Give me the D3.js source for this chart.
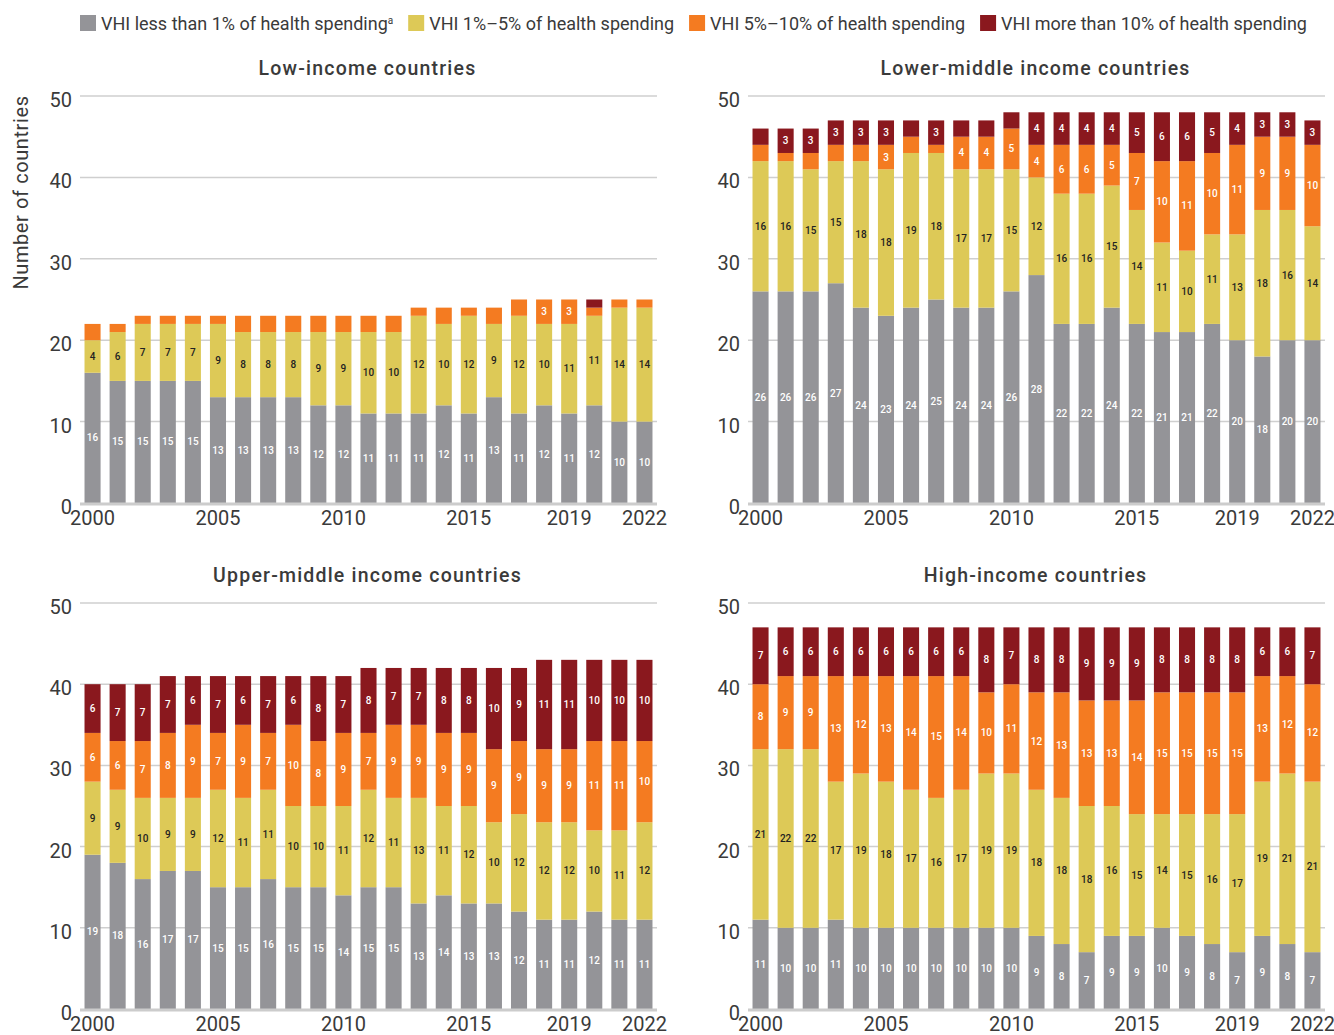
<!DOCTYPE html>
<html>
<head>
<meta charset="utf-8">
<script src="https://d3js.org/d3.v7.min.js"></script>
<style>
  body { margin: 0; background: #fff; }
  text { font-family: Roboto, "DejaVu Sans", sans-serif; fill: #3a3a3a; }
</style>
</head>
<body>
<svg id="chart" width="1334" height="1035"></svg>
<script>
// categories
var years = [2000, 2001, 2002, 2003, 2004, 2005, 2006, 2007, 2008, 2009, 2010, 2011,
             2012, 2013, 2014, 2015, 2016, 2017, 2018, 2019, 2020, 2021, 2022];
var yearTicks = [2000, 2005, 2010, 2015, 2019, 2022];
var countTicks = [0, 10, 20, 30, 40, 50];

var seriesKeys = ["lt1", "p1to5", "p5to10", "gt10"];
var seriesNames = ["VHI less than 1% of health spending", "VHI 1%\u20135% of health spending",
                   "VHI 5%\u201310% of health spending", "VHI more than 10% of health spending"];

// low-income countries
var lowLt1   = [16, 15, 15, 15, 15, 13, 13, 13, 13, 12, 12, 11, 11, 11, 12, 11, 13, 11, 12, 11, 12, 10, 10];
var low1to5  = [ 4,  6,  7,  7,  7,  9,  8,  8,  8,  9,  9, 10, 10, 12, 10, 12,  9, 12, 10, 11, 11, 14, 14];
var low5to10 = [ 2,  1,  1,  1,  1,  1,  2,  2,  2,  2,  2,  2,  2,  1,  2,  1,  2,  2,  3,  3,  1,  1,  1];
var lowGt10  = [ 0,  0,  0,  0,  0,  0,  0,  0,  0,  0,  0,  0,  0,  0,  0,  0,  0,  0,  0,  0,  1,  0,  0];

// lower-middle income countries
var lmLt1   = [26, 26, 26, 27, 24, 23, 24, 25, 24, 24, 26, 28, 22, 22, 24, 22, 21, 21, 22, 20, 18, 20, 20];
var lm1to5  = [16, 16, 15, 15, 18, 18, 19, 18, 17, 17, 15, 12, 16, 16, 15, 14, 11, 10, 11, 13, 18, 16, 14];
var lm5to10 = [ 2,  1,  2,  2,  2,  3,  2,  1,  4,  4,  5,  4,  6,  6,  5,  7, 10, 11, 10, 11,  9,  9, 10];
var lmGt10  = [ 2,  3,  3,  3,  3,  3,  2,  3,  2,  2,  2,  4,  4,  4,  4,  5,  6,  6,  5,  4,  3,  3,  3];

// upper-middle income countries
var umLt1   = [19, 18, 16, 17, 17, 15, 15, 16, 15, 15, 14, 15, 15, 13, 14, 13, 13, 12, 11, 11, 12, 11, 11];
var um1to5  = [ 9,  9, 10,  9,  9, 12, 11, 11, 10, 10, 11, 12, 11, 13, 11, 12, 10, 12, 12, 12, 10, 11, 12];
var um5to10 = [ 6,  6,  7,  8,  9,  7,  9,  7, 10,  8,  9,  7,  9,  9,  9,  9,  9,  9,  9,  9, 11, 11, 10];
var umGt10  = [ 6,  7,  7,  7,  6,  7,  6,  7,  6,  8,  7,  8,  7,  7,  8,  8, 10,  9, 11, 11, 10, 10, 10];

// high-income countries
var hiLt1   = [11, 10, 10, 11, 10, 10, 10, 10, 10, 10, 10,  9,  8,  7,  9,  9, 10,  9,  8,  7,  9,  8,  7];
var hi1to5  = [21, 22, 22, 17, 19, 18, 17, 16, 17, 19, 19, 18, 18, 18, 16, 15, 14, 15, 16, 17, 19, 21, 21];
var hi5to10 = [ 8,  9,  9, 13, 12, 13, 14, 15, 14, 10, 11, 12, 13, 13, 13, 14, 15, 15, 15, 15, 13, 12, 12];
var hiGt10  = [ 7,  6,  6,  6,  6,  6,  6,  6,  6,  8,  7,  8,  8,  9,  9,  9,  8,  8,  8,  8,  6,  6,  7];

var colors = { lt1: "#949498", p1to5: "#ddc957", p5to10: "#f47b21", gt10: "#8a181e" };
var labelColors = { lt1: "#ffffff", p1to5: "#222222", p5to10: "#ffffff", gt10: "#ffffff" };

var panels = [
  { title: "Low-income countries", series: [lowLt1, low1to5, low5to10, lowGt10], x0: 80, x1: 657, top: 96, bottom: 503, yLabel: true },
  { title: "Lower-middle income countries", series: [lmLt1, lm1to5, lm5to10, lmGt10], x0: 748, x1: 1325, top: 96, bottom: 503 },
  { title: "Upper-middle income countries", series: [umLt1, um1to5, um5to10, umGt10], x0: 80, x1: 657, top: 603, bottom: 1009 },
  { title: "High-income countries", series: [hiLt1, hi1to5, hi5to10, hiGt10], x0: 748, x1: 1325, top: 603, bottom: 1009 }
];

var svg = d3.select("#chart");

// legend
var legend = svg.append("g");
var lx = 80;
seriesKeys.forEach(function (k, i) {
  legend.append("rect").attr("x", lx).attr("y", 15).attr("width", 16).attr("height", 16).attr("fill", colors[k]);
  var t = legend.append("text").attr("x", lx + 21).attr("y", 29.5).style("font-size", "18px").text(seriesNames[i]);
  if (i == 0) {
    t.append("tspan").attr("dy", -6).style("font-size", "10px").text("a");
  }
  lx = lx + 21 + t.node().getComputedTextLength() + 15;
});

panels.forEach(function (p) {
  var g = svg.append("g");
  var table = years.map(function (yr, i) {
    var row = { year: yr };
    seriesKeys.forEach(function (k, j) { row[k] = p.series[j][i]; });
    return row;
  });
  var stacked = d3.stack().keys(seriesKeys)(table);

  var x = d3.scaleBand().domain(years).range([p.x0, p.x1]).paddingInner(0.36).paddingOuter(0.18);
  var y = d3.scaleLinear().domain([0, 50]).range([p.bottom, p.top]);

  // gridlines
  g.selectAll(".grid").data(countTicks.filter(function (d) { return d > 0; })).enter().append("line")
    .attr("x1", p.x0).attr("x2", p.x1)
    .attr("y1", function (d) { return y(d); }).attr("y2", function (d) { return y(d); })
    .attr("stroke", "#cfcfcf").attr("stroke-width", 1.5);

  // y tick labels
  g.selectAll(".ytick").data(countTicks).enter().append("text")
    .attr("x", p.x0 - 8).attr("y", function (d) { return y(d) + 11; })
    .attr("text-anchor", "end").style("font-size", "20px").text(function (d) { return d; });

  // bars
  stacked.forEach(function (s) {
    g.append("g").selectAll("rect").data(s).enter().append("rect")
      .attr("x", function (d) { return x(d.data.year); })
      .attr("width", x.bandwidth())
      .attr("y", function (d) { return y(d[1]); })
      .attr("height", function (d) { return y(d[0]) - y(d[1]); })
      .attr("fill", colors[s.key]);
    g.append("g").selectAll("text").data(s.filter(function (d) { return d[1] - d[0] >= 3; })).enter().append("text")
      .attr("x", function (d) { return x(d.data.year) + x.bandwidth() / 2; })
      .attr("y", function (d) { return y((d[0] + d[1]) / 2) + 3.5; })
      .attr("text-anchor", "middle").style("font-size", "10px").style("font-weight", 500)
      .style("fill", labelColors[s.key])
      .text(function (d) { return d[1] - d[0]; });
  });

  // baseline
  g.append("line").attr("x1", p.x0).attr("x2", p.x1).attr("y1", p.bottom + 1).attr("y2", p.bottom + 1)
    .attr("stroke", "#cccccc").attr("stroke-width", 3);

  // x tick labels
  g.selectAll(".xtick").data(yearTicks).enter().append("text")
    .attr("x", function (d) { return x(d) + x.bandwidth() / 2; })
    .attr("y", p.bottom + 22)
    .attr("text-anchor", "middle").style("font-size", "20px").text(function (d) { return d; });

  // title
  g.append("text").attr("x", (p.x0 + p.x1) / 2 - 1).attr("y", p.top - 21)
    .attr("text-anchor", "middle").style("font-size", "19.5px").style("font-weight", 500)
    .style("letter-spacing", "1.2px").text(p.title);

  if (p.yLabel) {
    g.append("text").attr("transform", "translate(28," + ((p.top + p.bottom) / 2 - 107) + ") rotate(-90)")
      .attr("text-anchor", "middle").style("font-size", "20px").style("letter-spacing", "0.6px")
      .text("Number of countries");
  }
});
</script>
</body>
</html>
